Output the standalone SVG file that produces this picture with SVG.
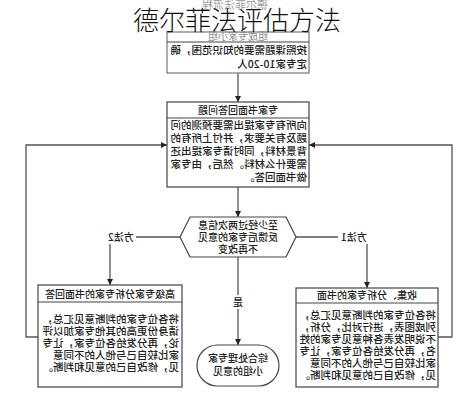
<svg xmlns="http://www.w3.org/2000/svg" width="476" height="400" viewBox="0 0 476 400">
<defs>
<marker id="ah" viewBox="0 0 10 10" refX="10" refY="5" markerWidth="6" markerHeight="6" orient="auto" markerUnits="userSpaceOnUse">
<path d="M0,0 L10,5 L0,10 z" fill="#222"/>
</marker>
</defs>
<style>
.box{fill:#fff;stroke:#444;stroke-width:1.2}
.div{stroke:#444;stroke-width:1.1}
.ln{fill:none;stroke:#555;stroke-width:1.3}
.t{font-family:"Noto Sans CJK SC","Noto Sans CJK JP",sans-serif;font-size:10.5px;font-weight:500;fill:#222}
.h{font-family:"Noto Sans CJK SC","Noto Sans CJK JP",sans-serif;font-size:10px;font-weight:500;fill:#222;text-anchor:middle}
.bg{fill:#fff}
</style>
<rect width="476" height="400" fill="#fff"/>
<g id="mirror" transform="matrix(-1 0 0 1 476 0)">
<text id="flowtitle" x="241" y="9" class="h" style="fill:#9a9a9a;font-size:11px;font-weight:400">德尔菲法流程</text>
<g id="connectors">
<path class="ln" d="M238,73 L238,102" marker-end="url(#ah)"/>
<path class="ln" d="M238,187 L238,217" marker-end="url(#ah)"/>
<path class="ln" d="M238,257 L238,345" marker-end="url(#ah)"/>
<path class="ln" d="M180,237 L109,237 L109,288" marker-end="url(#ah)"/>
<path class="ln" d="M296,237 L366,237 L366,285" marker-end="url(#ah)"/>
<path class="ln" d="M38,337 L24,337 L24,145 L167,145" marker-end="url(#ah)"/>
<path class="ln" d="M438,337 L450,337 L450,145 L309,145" marker-end="url(#ah)"/>
<rect class="bg" x="106" y="231" width="32" height="13"/>
<text class="h" x="122" y="241">方法1</text>
<rect class="bg" x="340" y="231" width="32" height="13"/>
<text class="h" x="355" y="241">方法2</text>
<rect class="bg" x="231" y="295" width="14" height="14"/>
<text class="h" x="238" y="306">是</text>
</g>
<g id="n1">
<rect class="box" x="167" y="32" width="142" height="41" style="stroke:#777"/>
<line class="div" x1="167" y1="42" x2="309" y2="42"/>
<text class="h" x="238" y="40" style="fill:#8a8a8a;font-weight:400">组成专家小组</text>
<text class="t" x="169" y="54">按照课题需要的知识范围，确</text>
<text class="t" x="169" y="68">定专家10-20人</text>
</g>
<g id="n2">
<rect class="box" x="167" y="102" width="142" height="85"/>
<line class="div" x1="167" y1="118" x2="309" y2="118"/>
<text class="h" x="238" y="114">专家书面回答问题</text>
<text class="t" x="169" y="129">向所有专家提出需要预测的问</text>
<text class="t" x="169" y="142">题及有关要求，并付上所有的</text>
<text class="t" x="169" y="155">背景材料，同时请专家提出还</text>
<text class="t" x="169" y="168">需要什么材料。然后，由专家</text>
<text class="t" x="169" y="181">做书面回答。</text>
</g>
<g id="n3">
<polygon class="box" points="180,237 190,217 286,217 296,237 286,257 190,257"/>
<text class="h" x="238" y="229">至少经过两次信息</text>
<text class="h" x="238" y="241">反馈后专家的意见</text>
<text class="h" x="238" y="253">不再改变</text>
</g>
<g id="n4">
<rect class="box" x="38" y="288" width="142" height="99"/>
<line class="div" x1="38" y1="303" x2="180" y2="303"/>
<text class="h" x="109" y="299">收集、分析专家的书面</text>
<text class="t" x="40" y="319">将各位专家的判断意见汇总，</text>
<text class="t" x="40" y="331">列成图表，进行对比，分析，</text>
<text class="t" x="40" y="343">不说明发表各种意见专家的姓</text>
<text class="t" x="40" y="355">名，再分发给各位专家，让专</text>
<text class="t" x="40" y="367">家比较自己与他人的不同意</text>
<text class="t" x="40" y="379">见，修改自己的意见和判断。</text>
</g>
<g id="n5">
<rect class="box" x="294" y="285" width="144" height="102"/>
<line class="div" x1="294" y1="302" x2="438" y2="302"/>
<text class="h" x="366" y="298">高级专家分析专家的书面回答</text>
<text class="t" x="297" y="323">将各位专家的判断意见汇总，</text>
<text class="t" x="297" y="335">请身份更高的其他专家加以评</text>
<text class="t" x="297" y="347">论，再分发给各位专家，让专</text>
<text class="t" x="297" y="359">家比较自己与他人的不同意</text>
<text class="t" x="297" y="371">见，修改自己的意见和判断。</text>
</g>
<g id="n6">
<rect class="box" x="197" y="345" width="82" height="41" rx="20.5" ry="20.5"/>
<text class="h" x="238" y="362">综合处理专家</text>
<text class="h" x="238" y="375">小组的意见</text>
</g>
</g>
<text id="title" x="237" y="30" style="font-family:'Noto Sans CJK SC',sans-serif;font-size:26px;font-weight:300;fill:#111;text-anchor:middle">德尔菲法评估方法</text>
</svg>
